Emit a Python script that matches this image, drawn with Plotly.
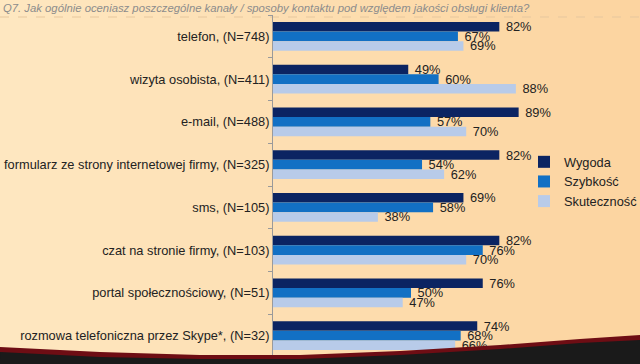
import plotly.graph_objects as go

categories = [
    "telefon, (N=748)",
    "wizyta osobista, (N=411)",
    "e-mail, (N=488)",
    "formularz ze strony internetowej firmy, (N=325)",
    "sms, (N=105)",
    "czat na stronie firmy, (N=103)",
    "portal społecznościowy, (N=51)",
    "rozmowa telefoniczna przez Skype*, (N=32)",
]
wygoda = [0.82, 0.49, 0.89, 0.82, 0.69, 0.82, 0.76, 0.74]
szybkosc = [0.67, 0.60, 0.57, 0.54, 0.58, 0.76, 0.50, 0.68]
skutecznosc = [0.69, 0.88, 0.70, 0.62, 0.38, 0.70, 0.47, 0.66]
series_names = ["Wygoda", "Szybkość", "Skuteczność"]
colors = ["#0b2462", "#1270c4", "#b8cbe9"]

title_text = "Q7. Jak ogólnie oceniasz poszczególne kanały / sposoby kontaktu pod względem jakości obsługi klienta?"

W, H = 640, 364
L, R, T, B = 273, 91, 15, 7
FONT = "Liberation Sans, Arial"

def px(x):
    return (x - L) / (W - L - R)

def py(y):
    return (H - B - y) / (H - T - B)

fig = go.Figure()
for name, vals, col in zip(series_names, [wygoda, szybkosc, skutecznosc], colors):
    fig.add_trace(go.Bar(
        y=categories, x=vals, name=name, orientation="h",
        marker=dict(color=col, line=dict(width=0)),
        text=[f" {round(v*100)}%" for v in vals],
        textposition="outside", constraintext="none", cliponaxis=False,
        textfont=dict(family=FONT, size=12.8, color="#222222"),
    ))

# background gradient stripes (decorative)
shapes = []
n = 32
c0 = (254, 231, 192)
c1 = (252, 212, 160)
for i in range(n):
    t = i / (n - 1)
    c = tuple(round(c0[k] + (c1[k] - c0[k]) * t) for k in range(3))
    shapes.append(dict(type="rect", xref="paper", yref="paper",
                       x0=px(i * W / n), x1=px((i + 1) * W / n + 1),
                       y0=py(H + 2), y1=py(-2), fillcolor=f"rgb{c}",
                       line=dict(width=0), layer="below"))
# dashed line under the title
shapes.append(dict(type="line", xref="paper", yref="paper", x0=px(0), x1=px(W),
                   y0=py(17), y1=py(17), line=dict(color="#e6c79e", width=1, dash="dash"),
                   layer="below"))

def pth(points):
    return "M " + " L ".join(f"{px(x):.4f},{py(y):.4f}" for x, y in points) + " Z"

red_pts = [(0, 347), (100, 352), (200, 355), (300, 355), (400, 351), (500, 345), (580, 339), (640, 335),
           (640, 366), (0, 366)]
blk_pts = [(0, 352), (100, 357), (200, 359), (300, 359), (400, 355), (500, 349), (580, 343), (640, 340),
           (640, 366), (0, 366)]
shapes.append(dict(type="path", xref="paper", yref="paper", path=pth(red_pts),
                   fillcolor="#6e0d14", line=dict(width=0), layer="above"))
shapes.append(dict(type="path", xref="paper", yref="paper", path=pth(blk_pts),
                   fillcolor="#1a1a1a", line=dict(width=0), layer="above"))

fig.update_layout(
    width=W, height=H,
    margin=dict(l=L, r=R, t=T, b=B, pad=0, autoexpand=False),
    paper_bgcolor="#fde0b2", plot_bgcolor="rgba(0,0,0,0)",
    barmode="group", bargap=0.33, bargroupgap=0,
    showlegend=True,
    legend=dict(x=px(524), y=py(147), xanchor="left", yanchor="top",
                bgcolor="rgba(0,0,0,0)", font=dict(family=FONT, size=12.8, color="#222222"),
                itemwidth=30, tracegroupgap=0),
    title=dict(text=title_text, x=3 / W, xref="container", xanchor="left",
               y=1 - 8 / H, yref="container", yanchor="middle",
               font=dict(family=FONT, size=11.3, color="#8c8c8c", style="italic")),
    xaxis=dict(range=[0, 1], visible=False, fixedrange=True, automargin=False),
    yaxis=dict(autorange="reversed", showline=True, linecolor="#9a9a9a", linewidth=1,
               ticks="outside", tickson="boundaries", ticklen=4, tickcolor="#9a9a9a",
               showgrid=False, zeroline=False, automargin=False, fixedrange=True,
               tickfont=dict(family=FONT, size=12.8, color="#222222")),
    shapes=shapes,
)

fig.write_html("out.html", config={"displayModeBar": False},
               post_script="document.body.style.margin='0';document.documentElement.style.overflow='hidden';")
